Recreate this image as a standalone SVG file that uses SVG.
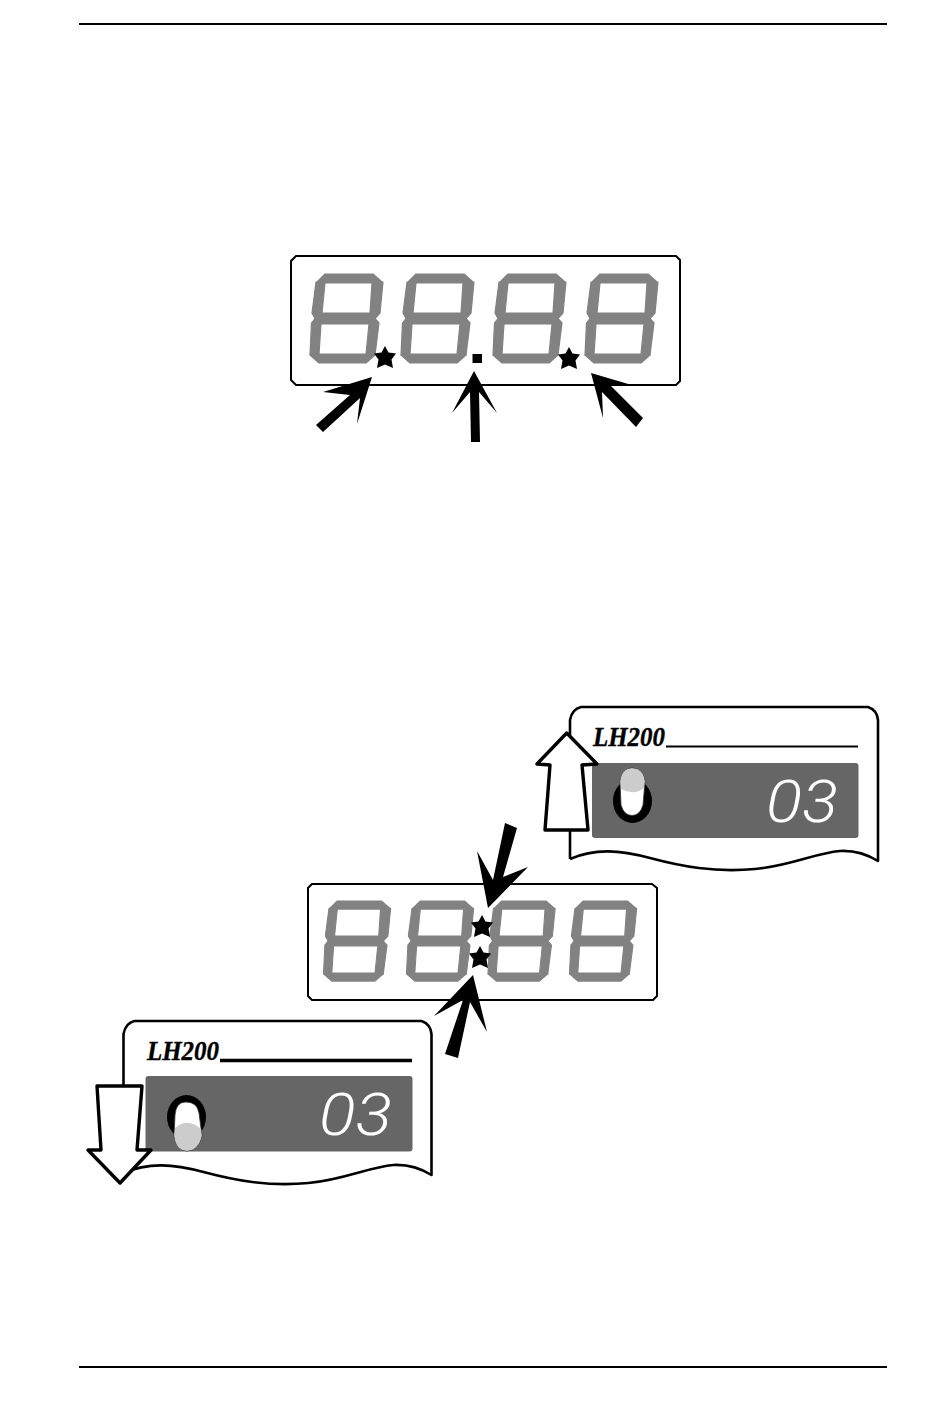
<svg xmlns="http://www.w3.org/2000/svg" xmlns:xlink="http://www.w3.org/1999/xlink" width="950" height="1406" viewBox="0 0 950 1406">
<style>
.rule{stroke:#000;stroke-width:2;fill:none}
.box{fill:#fff;stroke:#000;stroke-width:2}
.seg{fill:#828282;stroke:#828282;stroke-width:1.2;stroke-linejoin:round}
.arrow{fill:#000}
.hollow{fill:#fff;stroke:#000;stroke-width:3.4;stroke-linejoin:round}
.panel{fill:#fff;stroke:#000;stroke-width:2.6;stroke-linejoin:round}
.screen{fill:#666}
.cap{stroke:#333;stroke-width:.8}
.model{font-family:"Liberation Serif",serif;font-style:italic;font-weight:bold;font-size:27px;fill:#000;stroke:#000;stroke-width:.4}
.led{font-family:Roboto,"Liberation Sans",sans-serif;font-style:italic;font-weight:300;font-size:59px;fill:#fff}
</style>
<defs>
<g id="digit">
<polygon class="seg" points="15,0 63,0 72,8 62,9 15,9 7,8"/>
<polygon class="seg" points="73,8 70,39 65,44.500 60,39 62,9"/>
<polygon class="seg" points="6,8 15,9 12,39 5,44.500 2,39"/>
<polygon class="seg" points="5,44.500 12,39 60,39 65,44.500 59,50 11,50"/>
<polygon class="seg" points="1.500,49 5,44.500 11,50 9,80 0,81"/>
<polygon class="seg" points="69,49 65,44.500 59,50 56,80 65,81"/>
<polygon class="seg" points="0,81 9,80 56,80 65,81 56,89 9,89"/>
</g>
<polygon id="star" points="0,-11 3.500,-4.500 11,-3.500 6.500,2.500 8,11 0,7.500 -8,11 -6.500,2.500 -11,-3.500 -3.500,-4.500" fill="#000"/>
</defs>
<rect width="950" height="1406" fill="#fff"/>
<g id="rules">
<line class="rule" x1="79" y1="24" x2="887" y2="24"/>
<line class="rule" x1="79" y1="1367" x2="887" y2="1367"/>
</g>
<g id="display-1">
<polygon class="box" points="296,256 676,256 680,260 680,381 676,385 296,385 291,380 291,261"/>
<use xlink:href="#digit" href="#digit" x="310" y="274"/>
<use xlink:href="#digit" href="#digit" x="401" y="274"/>
<use xlink:href="#digit" href="#digit" x="493" y="274"/>
<use xlink:href="#digit" href="#digit" x="585" y="274"/>
<use xlink:href="#star" href="#star" x="385" y="357"/>
<rect x="472.500" y="354" width="9.500" height="9" fill="#000"/>
<use xlink:href="#star" href="#star" x="569" y="358"/>
</g>
<g id="panel-top">
<path class="panel" d="M570,859 L570,720 Q572,709 581,707 L868,707 Q877,710 878,720 L878,861 Q860,850 840,851 C815,853 790,866 755,869 C715,873 680,866 650,858 C620,850 595,848 570,859"/>
<text class="model" x="593" y="746" textLength="72" lengthAdjust="spacingAndGlyphs">LH200</text>
<line x1="666" y1="746.500" x2="858" y2="746.500" stroke="#000" stroke-width="2"/>
<rect class="screen" x="592" y="763" width="266.500" height="75" rx="3"/>
<ellipse cx="632.500" cy="801" rx="19.500" ry="22" fill="#000"/>
<path class="cap" d="M620,781 Q622,768 632,768 Q643,768 645,781 L643,805 Q640,815.500 632,815.500 Q624,815.500 621,805 Z" fill="#fff"/>
<path d="M620.500,781 Q622,768.500 632,768.500 Q643,768.500 644.500,781 L644,788 Q634,796 621,789 Z" fill="#ccc"/>
<text class="led" x="766" y="822" textLength="72" lengthAdjust="spacingAndGlyphs">03</text>
</g>
<g id="display-2">
<polygon class="box" points="312,884 652,884 657,888 657,996 653,1000 312,1000 308,996 308,888"/>
<g transform="translate(323.500,901) scale(.92,.9)"><use xlink:href="#digit" href="#digit"/></g>
<g transform="translate(406.500,901) scale(.92,.9)"><use xlink:href="#digit" href="#digit"/></g>
<g transform="translate(488,901) scale(.92,.9)"><use xlink:href="#digit" href="#digit"/></g>
<g transform="translate(569.500,901) scale(.92,.9)"><use xlink:href="#digit" href="#digit"/></g>
<use xlink:href="#star" href="#star" x="482" y="926"/>
<use xlink:href="#star" href="#star" x="480" y="957"/>
</g>
<g id="panel-bottom">
<path class="panel" d="M123.500,1173 L123.500,1034 Q125.500,1023 134.500,1021 L421.500,1021 Q430.500,1024 431.500,1034 L431.500,1175 Q413.500,1164 393.500,1165 C368.500,1167 343.500,1180 308.500,1183 C268.500,1187 233.500,1180 203.500,1172 C173.500,1164 148.500,1162 123.500,1173"/>
<text class="model" x="147" y="1060" textLength="72" lengthAdjust="spacingAndGlyphs">LH200</text>
<line x1="220" y1="1060.500" x2="412" y2="1060.500" stroke="#000" stroke-width="3.500"/>
<rect class="screen" x="145.500" y="1076" width="267" height="75.500" rx="3"/>
<ellipse cx="186.500" cy="1117" rx="19.500" ry="22" fill="#000"/>
<path class="cap" d="M175,1115 Q176,1102 186,1102 Q197,1102 199,1113 L202,1136 Q198,1151 187,1151 Q176,1151 174,1136 Z" fill="#fff"/>
<path d="M175,1128 Q187,1117 201,1129 L201.500,1136 Q198,1150.500 187,1150.500 Q176,1150.500 174.500,1136 Z" fill="#ccc"/>
<text class="led" x="319" y="1135" textLength="73" lengthAdjust="spacingAndGlyphs">03</text>
</g>
<g id="connectors">
<polygon class="arrow" points="372,377 323,392 350,395 316,425 323,432 360,398 357,424"/>
<polygon class="arrow" points="474,371 452,413 470,392 471,442 480,442 479,392 497,413"/>
<polygon class="arrow" points="591,373 635,386 610,385 643,418 636,427 602,392 603,418"/>
<polygon class="arrow" points="488,908 477,851 493,880 505,823 517,828 503,877 528,867"/>
<polygon class="arrow" points="473,975 434,1016 463,1000 445,1054 458,1058 470,1002 487,1032"/>
<polygon class="hollow" points="566.700,733 537,764 550,765 545,830 588,830 582,765 597,764"/>
<polygon class="hollow" points="97,1086 142,1086 137,1150 151,1150 120,1183 88,1150 101,1150"/>
</g>
</svg>
